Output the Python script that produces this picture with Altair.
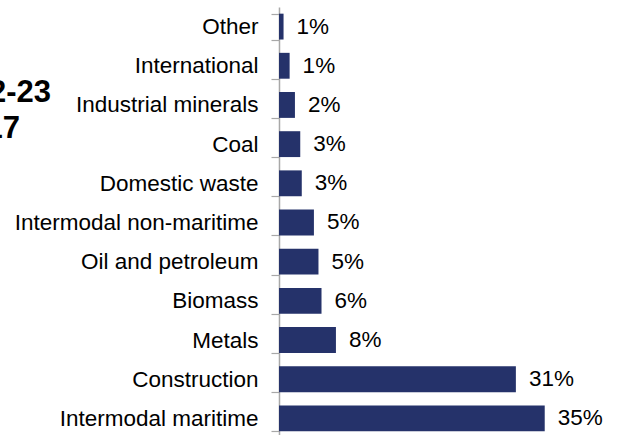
import altair as alt
import pandas as pd

categories = ["Other", "International", "Industrial minerals", "Coal", "Domestic waste",
              "Intermodal non-maritime", "Oil and petroleum", "Biomass", "Metals",
              "Construction", "Intermodal maritime"]
shares = [0.6, 1.4, 2.1, 2.8, 3.0, 4.6, 5.2, 5.6, 7.5, 31.2, 35.0]
share_labels = ["1%", "1%", "2%", "3%", "3%", "5%", "5%", "6%", "8%", "31%", "35%"]
title_lines = ["2022-23", "2017"]

df = pd.DataFrame({"category": categories, "share": shares, "label": share_labels})

FONT = "Liberation Sans"
NAVY = "#25326a"

y_enc = alt.Y("category:N", sort=categories,
              scale=alt.Scale(paddingInner=0.34, paddingOuter=0.17, range=[0, 431]),
              axis=alt.Axis(title=None, tickBand="extent", labelFont=FONT, labelFontSize=22.5,
                            labelColor="#000000", labelPadding=13, tickSize=8,
                            tickColor="#a8a8a8", domainColor="#a8a8a8", domainWidth=1.5,
                            tickWidth=1.2, labelLimit=400))
x_enc = alt.X("share:Q", scale=alt.Scale(domain=[0, 40], nice=False), axis=None)

base = alt.Chart(df)
bars = base.mark_bar(color=NAVY).encode(x=x_enc, y=y_enc)
labels = base.mark_text(align="left", baseline="middle", dx=13, font=FONT,
                        fontSize=22.5, color="#000000").encode(
    x=x_enc, y=alt.Y("category:N", sort=categories), text="label:N")

t1 = alt.Chart(pd.DataFrame({"t": [title_lines[0]]})).mark_text(
    align="right", baseline="alphabetic", font=FONT, fontSize=31, fontWeight="bold",
    color="#000000").encode(x=alt.value(-228), y=alt.value(95), text="t:N")
t2 = alt.Chart(pd.DataFrame({"t": [title_lines[1]]})).mark_text(
    align="right", baseline="alphabetic", font=FONT, fontSize=31, fontWeight="bold",
    color="#000000").encode(x=alt.value(-259), y=alt.value(131), text="t:N")

chart = alt.layer(bars, labels, t1, t2).properties(
    width=303.7, height=428,
    autosize=alt.AutoSizeParams(type="none"),
    padding={"left": 279, "top": 7, "right": 37, "bottom": 0},
).configure(background="#ffffff").configure_view(stroke=None, strokeWidth=0)

chart.save("out.html", embed_options={"renderer": "svg", "actions": False})
